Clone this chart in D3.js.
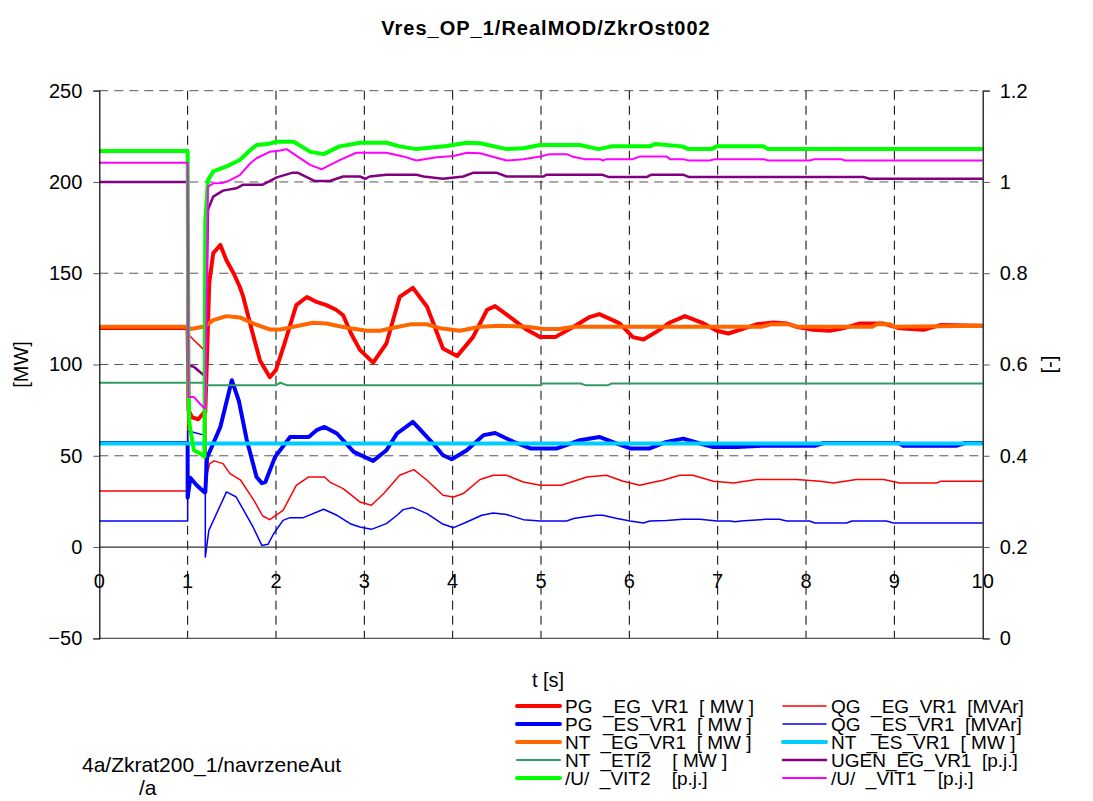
<!DOCTYPE html>
<html>
<head>
<meta charset="utf-8">
<script src="https://cdn.jsdelivr.net/npm/d3@7"></script>
<style>
  html, body { margin: 0; padding: 0; background: #fff; }
  svg text { font-family: "Liberation Sans", Arial, sans-serif; fill: #000; }
</style>
</head>
<body>
<svg id="chart" width="1093" height="801"></svg>
<script>
// ---- data: [t (s), value] pairs per series ----
const title = "Vres_OP_1/RealMOD/ZkrOst002";
const xTicks = [0, 1, 2, 3, 4, 5, 6, 7, 8, 9, 10];
const yLeftTicks = [-50, 0, 50, 100, 150, 200, 250];
const yRightTicks = [0, 0.2, 0.4, 0.6, 0.8, 1, 1.2];

// PG _EG_VR1 [MW]
const pgEG = [[0,120],[1,120],[1.01,75],[1.05,71],[1.12,70],[1.19,74],[1.2,74],[1.245,145],[1.29,161],[1.37,165.5],[1.44,157],[1.52,150],[1.59,142.6],[1.63,137],[1.72,120],[1.82,102],[1.93,93],[2.0,97],[2.1,112],[2.23,132.5],[2.35,137],[2.45,134.5],[2.57,132.5],[2.68,130],[2.76,127],[2.85,117],[2.95,108],[3.1,101],[3.25,111.5],[3.4,137],[3.55,142],[3.71,131.6],[3.89,108.8],[4.05,104.6],[4.23,115],[4.39,130],[4.48,132],[4.65,126],[4.84,119],[4.99,115],[5.16,115],[5.37,120.7],[5.55,126],[5.66,127.6],[5.78,125],[5.89,122.5],[6.04,115],[6.16,113.7],[6.31,118],[6.46,123],[6.63,126.5],[6.84,122.5],[6.99,118.5],[7.12,117],[7.25,119],[7.44,122],[7.63,123],[7.78,122.5],[7.89,120.7],[8.08,119],[8.27,118.5],[8.42,119.8],[8.61,122.5],[8.87,122.5],[9.06,119.8],[9.33,119],[9.52,121.6],[10,121.2]];
// QG _EG_VR1 [MVAr]
const qgEG = [[0,30.7],[1,30.7],[1.0,117],[1.07,113.4],[1.18,108.3],[1.2,108],[1.21,38],[1.25,45.7],[1.3,47.2],[1.4,45.7],[1.48,40.2],[1.6,36.6],[1.75,25.6],[1.85,17],[1.93,15],[2.08,20.1],[2.23,33.8],[2.37,38.4],[2.55,38.4],[2.61,35.6],[2.76,32],[2.95,24.7],[3.08,22.9],[3.22,29.3],[3.4,39.3],[3.56,42.4],[3.71,36.6],[3.89,28.4],[4.01,27.4],[4.12,29.3],[4.31,37],[4.46,39.3],[4.61,39.3],[4.8,35.6],[4.99,33.8],[5.23,33.8],[5.37,36],[5.52,38.4],[5.74,39.3],[5.93,36],[6.12,33.8],[6.23,35.1],[6.38,36.6],[6.57,39.3],[6.72,39.3],[6.95,36],[7.18,35.1],[7.44,37],[7.89,37],[8.16,36],[8.31,35.1],[8.57,37],[8.88,37],[9.06,35.1],[9.48,35.1],[9.52,36],[10,36]];
// PG _ES_VR1 [MW]
const pgES = [[0,57],[1,57],[1.0,27],[1.03,38],[1.1,34],[1.19,30],[1.2,30],[1.22,49],[1.37,65.8],[1.5,91.4],[1.58,80],[1.67,58.5],[1.78,38.4],[1.84,35],[1.88,35.6],[1.99,49.4],[2.16,60.3],[2.37,60.3],[2.46,64],[2.55,65.8],[2.69,62.2],[2.88,52.1],[3.1,47.2],[3.25,53],[3.37,62.2],[3.55,68.6],[3.78,56.7],[3.89,50.3],[3.99,48.1],[4.16,53],[4.35,61.3],[4.48,62.5],[4.69,57.6],[4.88,54],[5.18,54],[5.44,58.5],[5.66,60.3],[5.86,56.7],[6.01,54],[6.23,54],[6.42,57.6],[6.61,59.4],[6.8,56.7],[6.95,54.8],[7.22,54.8],[7.5,55.5],[8.1,55.5],[8.2,57],[9.05,57],[9.1,55.5],[9.7,55.5],[9.8,57],[10,57]];
// QG _ES_VR1 [MVAr]
const qgES = [[0,14.3],[1,14.3],[1.0,63.5],[1.05,63],[1.19,61.3],[1.2,61],[1.2,-5.5],[1.24,9.1],[1.44,30.2],[1.55,27.4],[1.74,11],[1.84,0.9],[1.91,1.5],[1.97,7],[2.08,14.6],[2.16,16.1],[2.31,16.1],[2.54,20.7],[2.69,17.4],[2.84,12.8],[2.95,11],[3.08,9.7],[3.25,12.8],[3.37,17.4],[3.44,20.5],[3.55,21.6],[3.71,18.3],[3.88,12.8],[4.01,10.6],[4.16,13.7],[4.33,17.4],[4.46,18.6],[4.61,17.8],[4.8,15],[4.99,14.3],[5.29,14.3],[5.37,15.6],[5.48,16.5],[5.63,17.4],[5.7,17.4],[5.86,15.6],[6.01,14.3],[6.16,13.2],[6.23,14.3],[6.42,14.6],[6.61,15.2],[6.8,15.2],[6.99,14.3],[7.14,14.3],[7.2,13.8],[7.26,14.3],[7.55,15.2],[7.7,15.2],[7.78,14.3],[8.04,14.3],[8.1,13.2],[8.46,13.2],[8.52,14.3],[8.91,14.3],[8.99,13.2],[10,13.2]];
// NT _EG_VR1 [MW]
const ntEG = [[0,120.7],[1,120.7],[1.03,119.5],[1.1,120],[1.2,121],[1.29,124.3],[1.44,126.5],[1.59,125.8],[1.74,122.5],[1.93,119.2],[2.05,119.2],[2.2,120.7],[2.42,122.9],[2.57,122.5],[2.8,120.1],[3.03,118.5],[3.18,118.5],[3.33,120.1],[3.52,122],[3.71,122],[3.86,119.8],[4.08,118.5],[4.31,120.7],[4.54,121.2],[4.84,120.7],[5.03,119.4],[5.21,119.4],[5.37,120.7],[7.5,120.7],[7.6,122],[7.8,122],[7.9,120.7],[8.75,120.7],[8.8,122],[8.95,122],[9.0,120.7],[10,121.2]];
// NT _ES_VR1 [MW]
const ntES = [[0,56.7],[10,56.7]];
// NT _ETI2 [MW]
const ntETI2 = [[0,90],[1.2,90],[1.22,88.7],[2.0,88.7],[2.05,90],[2.12,88.7],[5.0,88.7],[5.02,89.6],[5.45,89.6],[5.5,88.7],[5.76,88.7],[5.8,89.6],[10,89.6]];
// UGEN_EG_VR1 [p.j.]
const ugenEG = [[0,1.0],[1,1.0],[1.0,0.598],[1.07,0.595],[1.18,0.577],[1.2,0.577],[1.23,0.939],[1.29,0.968],[1.4,0.981],[1.55,0.986],[1.63,0.994],[1.85,0.994],[2.01,1.010],[2.18,1.020],[2.25,1.020],[2.44,1.002],[2.61,1.002],[2.76,1.012],[2.95,1.012],[3.01,1.007],[3.06,1.012],[3.25,1.016],[3.59,1.016],[3.67,1.012],[3.89,1.007],[4.12,1.012],[4.23,1.020],[4.5,1.020],[4.61,1.012],[5.03,1.012],[5.06,1.016],[5.69,1.016],[5.76,1.011],[6.2,1.011],[6.25,1.016],[6.61,1.016],[6.67,1.011],[8.65,1.011],[8.72,1.007],[10,1.007]];
// /U/ _VIT2 [p.j.]
const uVIT2 = [[0,1.068],[1,1.068],[1.01,0.55],[1.02,0.471],[1.07,0.412],[1.14,0.405],[1.19,0.398],[1.2,0.916],[1.23,1.004],[1.29,1.023],[1.44,1.034],[1.59,1.048],[1.71,1.070],[1.78,1.081],[1.9,1.083],[2.01,1.088],[2.2,1.088],[2.39,1.066],[2.54,1.061],[2.72,1.078],[2.95,1.086],[3.25,1.086],[3.4,1.078],[3.59,1.072],[3.93,1.079],[4.16,1.086],[4.31,1.085],[4.61,1.072],[4.8,1.074],[4.99,1.081],[5.44,1.081],[5.65,1.072],[5.8,1.078],[6.23,1.078],[6.29,1.083],[6.6,1.078],[6.67,1.072],[6.93,1.072],[6.99,1.078],[7.52,1.078],[7.57,1.072],[10,1.072]];
// /U/ _VIT1 [p.j.]
const uVIT1 = [[0,1.042],[1,1.042],[1.01,0.529],[1.07,0.529],[1.14,0.514],[1.19,0.504],[1.2,0.504],[1.23,0.990],[1.29,0.997],[1.4,0.998],[1.48,1.004],[1.59,1.015],[1.71,1.041],[1.78,1.052],[1.93,1.066],[2.05,1.069],[2.12,1.072],[2.39,1.037],[2.52,1.028],[2.72,1.048],[2.91,1.064],[3.25,1.064],[3.44,1.056],[3.59,1.047],[3.82,1.054],[4.01,1.057],[4.16,1.064],[4.31,1.063],[4.61,1.047],[4.8,1.050],[4.99,1.056],[5.1,1.061],[5.29,1.061],[5.35,1.056],[5.5,1.050],[5.67,1.050],[5.7,1.047],[5.74,1.050],[6.04,1.050],[6.12,1.056],[6.42,1.056],[6.46,1.050],[6.61,1.050],[6.67,1.047],[6.91,1.047],[6.97,1.050],[7.52,1.050],[7.57,1.047],[8.04,1.047],[8.1,1.050],[8.4,1.050],[8.44,1.047],[10,1.047]];

// series in drawing / legend order
const series = [
  { name: "PG  _EG_VR1  [ MW ]",  data: pgEG,   axis: "L", color: "#ff0000", width: 4 },
  { name: "QG  _EG_VR1  [MVAr]",  data: qgEG,   axis: "L", color: "#ff0000", width: 1.5 },
  { name: "PG  _ES_VR1  [ MW ]",  data: pgES,   axis: "L", color: "#0000ff", width: 4 },
  { name: "QG  _ES_VR1  [MVAr]",  data: qgES,   axis: "L", color: "#0000ff", width: 1.5 },
  { name: "NT  _EG_VR1  [ MW ]",  data: ntEG,   axis: "L", color: "#ff6600", width: 4 },
  { name: "NT  _ES_VR1  [ MW ]",  data: ntES,   axis: "L", color: "#00ccff", width: 4 },
  { name: "NT  _ETI2    [ MW ]",  data: ntETI2, axis: "L", color: "#339966", width: 2 },
  { name: "UGEN_EG_VR1  [p.j.]",  data: ugenEG, axis: "R", color: "#800080", width: 2.5 },
  { name: "/U/  _VIT2    [p.j.]", data: uVIT2,  axis: "R", color: "#00ff00", width: 4 },
  { name: "/U/  _VIT1    [p.j.]", data: uVIT1,  axis: "R", color: "#ff00ff", width: 2 }
];

// ---- layout ----
const svg = d3.select("#chart");
const plot = { left: 99.3, right: 982.7, top: 90.7, bottom: 638.3 };
const fs = "20px";

const x = d3.scaleLinear().domain([0, 10]).range([plot.left, plot.right]);
const yL = d3.scaleLinear().domain([-50, 250]).range([plot.bottom, plot.top]);
const yR = d3.scaleLinear().domain([0, 1.2]).range([plot.bottom, plot.top]);

// title
svg.append("text")
  .attr("x", 546).attr("y", 35)
  .attr("text-anchor", "middle")
  .style("font-size", "20px").style("font-weight", "bold")
  .style("letter-spacing", "1px")
  .text(title);

// horizontal grid
const g = svg.append("g");
g.selectAll("line.hgrid").data(yLeftTicks.filter(v => v !== 0 && v !== -50))
  .join("line").attr("class", "hgrid")
  .attr("x1", plot.left).attr("x2", plot.right)
  .attr("y1", d => yL(d)).attr("y2", d => yL(d))
  .attr("stroke", "#555").attr("stroke-width", 1).attr("stroke-dasharray", "9,6");

// vertical grid
g.selectAll("line.vgrid").data(xTicks.filter(v => v > 0 && v < 10))
  .join("line").attr("class", "vgrid")
  .attr("x1", d => x(d)).attr("x2", d => x(d))
  .attr("y1", plot.top).attr("y2", plot.bottom)
  .attr("stroke", "#000").attr("stroke-width", 1).attr("stroke-dasharray", "9,6");

// bottom edge
g.append("line")
  .attr("x1", plot.left).attr("x2", plot.right)
  .attr("y1", yL(-50)).attr("y2", yL(-50))
  .attr("stroke", "#555").attr("stroke-width", 1.2);

// series lines
const plotG = svg.append("g");
series.forEach(s => {
  const ys = s.axis === "L" ? yL : yR;
  const line = d3.line().x(d => x(d[0])).y(d => ys(d[1]));
  plotG.append("path")
    .datum(s.data)
    .attr("d", line)
    .attr("fill", "none")
    .attr("stroke", s.color)
    .attr("stroke-width", s.width)
    .attr("stroke-linejoin", "round");
});

// zero line
svg.append("line")
  .attr("x1", plot.left).attr("x2", plot.right)
  .attr("y1", yL(0)).attr("y2", yL(0))
  .attr("stroke", "#333").attr("stroke-width", 1.2);

// left axis
const axL = svg.append("g").attr("transform", `translate(${plot.left},0)`)
  .call(d3.axisLeft(yL).tickValues(yLeftTicks).tickSize(6).tickPadding(11).tickFormat(d3.format("d")));
axL.select(".domain").attr("stroke", "#000").attr("stroke-width", 1.2);
axL.selectAll(".tick line").attr("stroke", "#555");
axL.selectAll("text").style("font-size", fs).attr("font-family", null);

// right axis
const axR = svg.append("g").attr("transform", `translate(${plot.right},0)`)
  .call(d3.axisRight(yR).tickValues(yRightTicks).tickSize(7).tickPadding(10).tickFormat(d => d === 0 || d === 1 ? String(d) : d3.format(".1f")(d)));
axR.select(".domain").attr("stroke", "#000").attr("stroke-width", 1.2);
axR.selectAll(".tick line").attr("stroke", "#555");
axR.selectAll("text").style("font-size", fs).attr("font-family", null);

// x tick labels under the zero line
svg.append("g").selectAll("text").data(xTicks).join("text")
  .attr("x", d => x(d)).attr("y", yL(0) + 41)
  .attr("text-anchor", "middle")
  .style("font-size", fs)
  .text(d => d);

// axis titles
svg.append("text")
  .attr("transform", `translate(28,${(plot.top + plot.bottom) / 2}) rotate(-90)`)
  .attr("text-anchor", "middle")
  .style("font-size", fs).text("[MW]");
svg.append("text")
  .attr("transform", `translate(1045,${(plot.top + plot.bottom) / 2}) rotate(90)`)
  .attr("text-anchor", "middle")
  .style("font-size", fs).text("[-]");

svg.append("text")
  .attr("x", 548).attr("y", 687)
  .attr("text-anchor", "middle")
  .style("font-size", fs).text("t [s]");

// legend (two columns, row-major)
const legend = svg.append("g");
series.forEach((s, i) => {
  const col = i % 2, row = Math.floor(i / 2);
  const lx = col === 0 ? 517 : 783;
  const ly = 706 + row * 18;
  legend.append("line")
    .attr("x1", lx).attr("x2", lx + 43)
    .attr("y1", ly).attr("y2", ly)
    .attr("stroke", s.color)
    .attr("stroke-width", Math.max(s.width, 1.5))
    .attr("stroke-linecap", "round");
  legend.append("text")
    .attr("x", lx + 48).attr("y", ly + 6.5)
    .style("font-size", "19px")
    .style("white-space", "pre")
    .attr("xml:space", "preserve")
    .text(s.name);
});

// scenario note
svg.append("text").attr("x", 82).attr("y", 772)
  .style("font-size", "21px").text("4a/Zkrat200_1/navrzeneAut");
svg.append("text").attr("x", 139).attr("y", 795)
  .style("font-size", "21px").text("/a");
</script>
</body>
</html>
